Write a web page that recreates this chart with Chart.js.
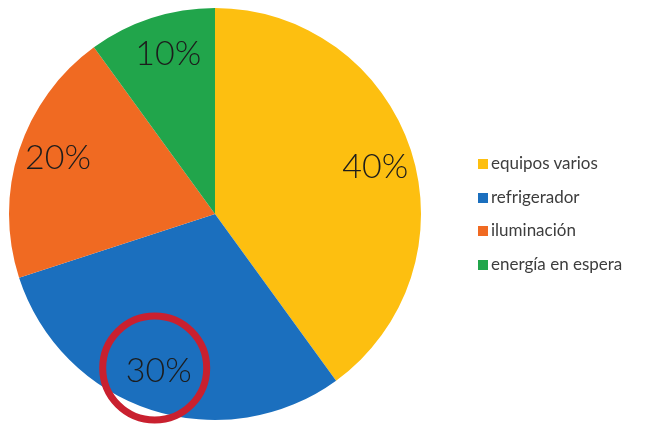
<!DOCTYPE html>
<html>
<head>
<meta charset="utf-8">
<script src="https://cdn.jsdelivr.net/npm/chart.js@4"></script>
<style>
    html, body { margin: 0; padding: 0; background: #fff; }
    #wrap { position: relative; width: 669px; height: 425px; overflow: hidden; }
    #legend { position: absolute; left: 478px; top: 152px; font-family: 'Lato', 'Noto Sans', sans-serif; font-size: 17px; color: #3d3d3d; }
    #legend div { height: 33.7px; line-height: 22px; white-space: nowrap; }
    #legend span { display: inline-block; width: 10px; height: 10px; margin-right: 3px; vertical-align: 0px; }
</style>
</head>
<body>
<div id="wrap">
    <canvas id="chart-consumo" width="669" height="425"></canvas>
    <div id="legend"></div>
</div>
<script>
'use strict'

// --------------------------------------------
// DONNEES DU GRAPHIQUE
// --------------------------------------------
const CATEGORIES = ['equipos varios', 'refrigerador', 'iluminación', 'energía en espera'] ;
const VALEURS    = [40, 30, 20, 10] ;
const COULEURS   = ['#fdbf10', '#1b6fbe', '#f06a22', '#21a54b'] ;
const SURLIGNE   = 1 ;   // index de la part entourée en rouge


// --------------------------------------------
// PLUGIN : pourcentages dans les parts + cercle rouge
// --------------------------------------------
const etiquettes = {
    id: 'etiquettes',
    afterDatasetsDraw(chart) {
        const { ctx } = chart ;
        const meta = chart.getDatasetMeta(0) ;
        const total = VALEURS.reduce((a, b) => a + b, 0) ;
        ctx.save() ;
        ctx.font = '300 34px Lato, "Noto Sans", sans-serif' ;
        ctx.fillStyle = '#1c1c1c' ;
        ctx.textAlign = 'center' ;
        ctx.textBaseline = 'middle' ;
        meta.data.forEach((arc, i) => {
            const p = arc.getProps(['x', 'y', 'startAngle', 'endAngle', 'outerRadius'], true) ;
            const mid = (p.startAngle + p.endAngle) / 2 + 0.03 ;
            const r = p.outerRadius * 0.81 ;
            const x = p.x + Math.cos(mid) * r ;
            const y = p.y + Math.sin(mid) * r ;
            ctx.fillText(Math.round(VALEURS[i] / total * 100) + '%', x, y) ;
            if (i === SURLIGNE) {
                ctx.save() ;
                ctx.strokeStyle = '#c9202f' ;
                ctx.lineWidth = 7 ;
                ctx.beginPath() ;
                ctx.arc(x - 4, y - 3, 52, 0, Math.PI * 2) ;
                ctx.stroke() ;
                ctx.restore() ;
            }
        }) ;
        ctx.restore() ;
    }
} ;


// --------------------------------------------
// GRAPHIQUE PIE : consommation par usage
// --------------------------------------------
new Chart(document.getElementById('chart-consumo'), {
    type: 'pie',
    data: {
        labels: CATEGORIES,
        datasets: [{
            data: VALEURS,
            backgroundColor: COULEURS,
            borderWidth: 0,
        }]
    },
    options: {
        responsive: false,
        animation: false,
        layout: { padding: { left: 9, top: 8, right: 248, bottom: 5 } },
        plugins: {
            legend: { display: false },
            tooltip: { enabled: false },
        }
    },
    plugins: [etiquettes]
}) ;

// Légende HTML construite depuis les mêmes tableaux
document.getElementById('legend').innerHTML = CATEGORIES.map((c, i) =>
    `<div><span style="background:${COULEURS[i]}"></span>${c}</div>`
).join('') ;
</script>
</body>
</html>
